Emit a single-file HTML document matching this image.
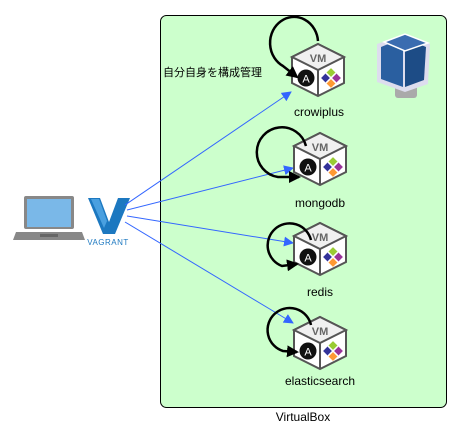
<!DOCTYPE html>
<html><head><meta charset="utf-8"><style>
html,body{margin:0;padding:0;background:#fff;width:461px;height:441px;overflow:hidden}
svg{display:block;font-family:"Liberation Sans","Noto Sans CJK JP",sans-serif}
</style></head><body>
<svg width="461" height="441" viewBox="0 0 461 441">
<defs>
<marker id="ab" markerWidth="10" markerHeight="10" refX="9" refY="5" orient="auto" markerUnits="userSpaceOnUse"><path d="M0,0 L10,5 L0,10 z" fill="#3366ff"/></marker>
<marker id="ak" markerWidth="12" markerHeight="12" refX="10" refY="6" orient="auto" markerUnits="userSpaceOnUse"><path d="M0,0 L12,6 L0,12 z" fill="#000"/></marker>
<g id="cube">
<path d="M0,0 L26,13 L26,39 L0,52 L-26,39 L-26,13 z" fill="#fff" stroke="#555" stroke-width="2"/>
<path d="M0,0 L26,13 L0,26 L-26,13 z" fill="#f0f0f0" stroke="#555" stroke-width="2"/>
<path d="M0,26 L0,52" stroke="#555" stroke-width="2"/>
<text x="0" y="18" font-size="11" font-weight="bold" fill="#666" text-anchor="middle">VM</text>
<circle cx="-12" cy="34" r="8.5" fill="#111"/>
<text x="-12" y="38.5" font-size="11" fill="#fff" text-anchor="middle">A</text>
<g transform="translate(13,34) rotate(45)">
<rect x="-7" y="-7" width="7" height="7" fill="#9c3"/><rect x="0" y="-7" width="7" height="7" fill="#939"/>
<rect x="-7" y="0" width="7" height="7" fill="#339"/><rect x="0" y="0" width="7" height="7" fill="#f93"/>
<path d="M-7,0 L7,0 M0,-7 L0,7" stroke="#fff" stroke-width="1.5"/>
</g>
</g>
</defs>
<rect x="160.5" y="15.5" width="286" height="392" rx="6" fill="#ccffcc" stroke="#000"/>
<text x="303" y="421" font-size="12" text-anchor="middle">VirtualBox</text>

<!-- laptop -->
<rect x="24" y="196" width="50" height="33" rx="2" fill="#888"/>
<rect x="27" y="199" width="44" height="28" fill="#7ab8e8"/>
<path d="M16,232 L82,232 L85,240 L13,240 z" fill="#888"/>
<rect x="40" y="234" width="18" height="3" fill="#666"/>
<!-- vagrant -->
<path d="M88,198 L100,198 L109,222 L118,198 L130,198 L115,234 L103,234 z" fill="#1c78c0"/>
<path d="M91,199 L99,199 L107,221 L104,228 z" fill="#4aa0e0"/>
<text x="108" y="245" font-size="8" fill="#1c78c0" text-anchor="middle" letter-spacing="0.5">VAGRANT</text>

<!-- virtualbox logo -->
<rect x="395" y="84" width="22" height="14" rx="3" fill="#aaa"/>
<path d="M405,34 L430,44 L428,84 L405,92 L377,82 L377,44 z" fill="#dde"/>
<path d="M405,38 L426,47 L424,80 L405,87 z" fill="#1d4c86"/>
<path d="M381,47 L403,38 L403,87 L381,79 z" fill="#2a5fa0"/>
<path d="M384,42 L405,34 L428,43 L405,51 z" fill="#3a6cb0" stroke="#fff" stroke-width="1.5"/>

<!-- blue connectors -->
<g stroke="#3366ff" stroke-width="1" fill="none">
<line x1="125" y1="205" x2="291" y2="92" marker-end="url(#ab)"/>
<line x1="127" y1="210" x2="293" y2="168" marker-end="url(#ab)"/>
<line x1="127" y1="216" x2="293" y2="243" marker-end="url(#ab)"/>
<line x1="125" y1="222" x2="293" y2="323" marker-end="url(#ab)"/>
</g>

<use href="#cube" x="318" y="44"/>
<use href="#cube" x="320" y="133"/>
<use href="#cube" x="320" y="223"/>
<use href="#cube" x="320" y="317"/>

<!-- loops -->
<g stroke="#000" stroke-width="2.5" fill="none">
<path d="M318,41 A24,26 0 1 0 283,66 L297,77" marker-end="url(#ak)"/>
<path d="M306,146 A25,25 0 1 0 278,177 L299,177" marker-end="url(#ak)"/>
<path d="M311,240 A22,22 0 1 0 282,266 L297,264" marker-end="url(#ak)"/>
<path d="M311,325 A22,22 0 1 0 283,351 L297,352" marker-end="url(#ak)"/>
</g>

<text x="163" y="76" font-size="11">自分自身を構成管理</text>
<text x="319" y="116" font-size="12" text-anchor="middle">crowiplus</text>
<text x="320" y="207" font-size="12" text-anchor="middle">mongodb</text>
<text x="320" y="296" font-size="12" text-anchor="middle">redis</text>
<text x="320" y="385" font-size="12" text-anchor="middle">elasticsearch</text>
</svg>
</body></html>
